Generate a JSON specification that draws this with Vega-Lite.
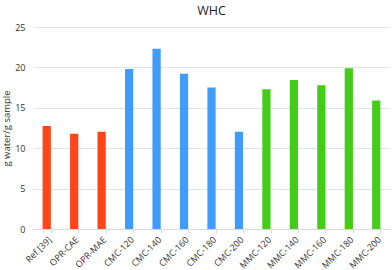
{
  "$schema": "https://vega.github.io/schema/vega-lite/v6.json",
  "width": 357,
  "height": 202,
  "autosize": {"type": "none"},
  "padding": {"left": 33, "top": 27, "right": 2, "bottom": 41},
  "background": "white",
  "title": {"text": "WHC", "fontSize": 12.5, "font": "Open Sans", "fontWeight": "normal", "color": "#222222", "offset": 6},
  "data": {"values": [
    {"sample": "Ref [39]", "group": "Ref", "whc": 12.75},
    {"sample": "OPR-CAE", "group": "Ref", "whc": 11.8},
    {"sample": "OPR-MAE", "group": "Ref", "whc": 12.05},
    {"sample": "CMC-120", "group": "CMC", "whc": 19.8},
    {"sample": "CMC-140", "group": "CMC", "whc": 22.3},
    {"sample": "CMC-160", "group": "CMC", "whc": 19.2},
    {"sample": "CMC-180", "group": "CMC", "whc": 17.5},
    {"sample": "CMC-200", "group": "CMC", "whc": 12.05},
    {"sample": "MMC-120", "group": "MMC", "whc": 17.3},
    {"sample": "MMC-140", "group": "MMC", "whc": 18.45},
    {"sample": "MMC-160", "group": "MMC", "whc": 17.8},
    {"sample": "MMC-180", "group": "MMC", "whc": 19.9},
    {"sample": "MMC-200", "group": "MMC", "whc": 15.9}
  ]},
  "mark": {"type": "bar"},
  "encoding": {
    "x": {"field": "sample", "type": "nominal", "sort": null,
      "scale": {"paddingInner": 0.7, "paddingOuter": 0.35},
      "axis": {"title": null, "labelAngle": -45, "labelFont": "Open Sans", "labelFontSize": 9, "labelColor": "#333333",
        "domainColor": "#d9d9d9", "tickColor": "#d9d9d9", "tickBand": "extent", "tickSize": 4, "labelPadding": 2}},
    "y": {"field": "whc", "type": "quantitative",
      "scale": {"domain": [0, 25]},
      "axis": {"title": "g water/g sample", "titleFont": "Open Sans", "titleFontSize": 9.5, "titleFontWeight": "normal", "titleColor": "#333333", "titlePadding": 3,
        "values": [0, 5, 10, 15, 20, 25], "labelFont": "Open Sans", "labelFontSize": 9, "labelColor": "#333333",
        "domain": false, "ticks": false, "labelPadding": 8, "gridColor": "#dce6e6"}},
    "color": {"field": "group", "type": "nominal", "legend": null,
      "scale": {"domain": ["Ref", "CMC", "MMC"], "range": ["#fc4619", "#3f9cfa", "#44cc18"]}}
  },
  "config": {"view": {"stroke": null}}
}
